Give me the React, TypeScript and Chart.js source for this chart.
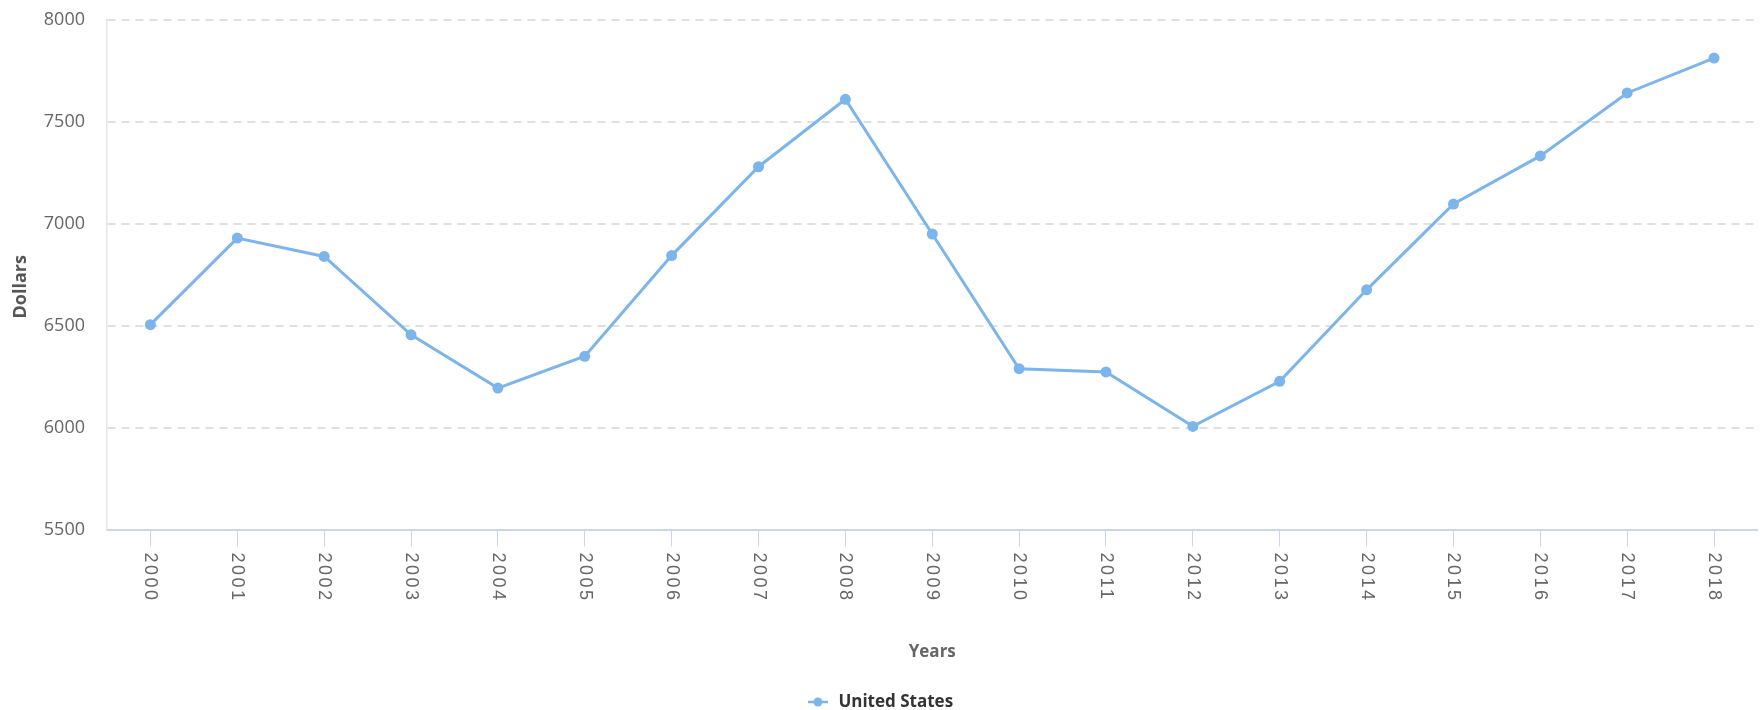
import { useEffect, useRef } from 'react';
import { Chart, registerables } from 'chart.js';

Chart.register(...registerables);

const years = ['2000', '2001', '2002', '2003', '2004', '2005', '2006', '2007', '2008', '2009', '2010', '2011', '2012', '2013', '2014', '2015', '2016', '2017', '2018'];
const usValues = [6505, 6930, 6840, 6455, 6194, 6350, 6844, 7280, 7611, 6950, 6289, 6273, 6006, 6227, 6676, 7097, 7333, 7642, 7813];
const seriesName = 'United States';
const yTickValues = [5500, 6000, 6500, 7000, 7500, 8000];
const xTitle = 'Years';
const yTitle = 'Dollars';

const LINE_COLOR = '#7cb5ec';

function makeLegendMarker(): HTMLCanvasElement {
  const c = document.createElement('canvas');
  c.width = 20;
  c.height = 12;
  const g = c.getContext('2d')!;
  g.strokeStyle = LINE_COLOR;
  g.lineWidth = 2.5;
  g.beginPath();
  g.moveTo(0, 6);
  g.lineTo(20, 6);
  g.stroke();
  g.fillStyle = LINE_COLOR;
  g.beginPath();
  g.arc(10, 6, 4.5, 0, Math.PI * 2);
  g.fill();
  return c;
}

const rotatedXLabels = {
  id: 'rotatedXLabels',
  afterDraw(chart: any) {
    const scale = chart.scales.x;
    const ctx = chart.ctx as CanvasRenderingContext2D;
    ctx.save();
    ctx.font = '18px "Liberation Sans", Arial, sans-serif';
    ctx.fillStyle = '#666666';
    (ctx as any).letterSpacing = '2.5px';
    ctx.textAlign = 'left';
    ctx.textBaseline = 'middle';
    scale.ticks.forEach((t: any, i: number) => {
      const x = scale.getPixelForTick(i);
      ctx.save();
      ctx.translate(x, scale.top + 23);
      ctx.rotate(Math.PI / 2);
      ctx.fillText(String(scale.getLabelForValue(t.value)), 0, 0);
      ctx.restore();
    });
    ctx.restore();
  },
};

const yAxisTitle = {
  id: 'yAxisTitle',
  afterDraw(chart: any) {
    const area = chart.chartArea;
    const ctx = chart.ctx as CanvasRenderingContext2D;
    ctx.save();
    ctx.font = 'bold 18px "Open Sans", sans-serif';
    ctx.fillStyle = '#555555';
    ctx.textAlign = 'center';
    ctx.textBaseline = 'middle';
    ctx.translate(21, (area.top + area.bottom) / 2 + 12);
    ctx.rotate(-Math.PI / 2);
    ctx.fillText(yTitle, 0, 0);
    ctx.restore();
  },
};

export default function App() {
  const ref = useRef<HTMLCanvasElement | null>(null);

  useEffect(() => {
    if (!ref.current) return;
    const marker = makeLegendMarker();
    const chart = new Chart(ref.current, {
      type: 'line',
      data: {
        labels: years,
        datasets: [
          {
            label: seriesName,
            data: usValues,
            borderColor: LINE_COLOR,
            backgroundColor: LINE_COLOR,
            borderWidth: 3,
            pointRadius: 5.5,
            pointBorderWidth: 0,
            pointBackgroundColor: LINE_COLOR,
            tension: 0,
            fill: false,
          },
        ],
      },
      options: {
        responsive: false,
        animation: false,
        layout: { padding: { left: 0, right: 4, top: 20, bottom: -10.5 } },
        plugins: {
          tooltip: { enabled: false },
          legend: {
            display: true,
            position: 'bottom',
            labels: {
              usePointStyle: true,
              pointStyle: marker as any,
              pointStyleWidth: 24,
              padding: 17,
              color: '#333333',
              font: { family: '"Open Sans", sans-serif', size: 17, weight: 'bold' },
            },
          },
        },
        scales: {
          x: {
            type: 'category',
            offset: true,
            grid: {
              offset: false,
              drawOnChartArea: false,
              drawTicks: true,
              tickLength: 17,
              color: '#ccd6eb',
              lineWidth: 1,
            },
            border: { display: true, color: '#ccd6eb', width: 2 },
            ticks: {
              autoSkip: false,
              maxRotation: 0,
              minRotation: 0,
              color: 'rgba(0,0,0,0)',
              font: { size: 18 },
            },
            title: {
              display: true,
              text: xTitle,
              color: '#666666',
              font: { family: '"Open Sans", sans-serif', size: 17, weight: 'bold' },
              padding: { top: 0, bottom: 14.5 },
            },
            afterFit: (s: any) => {
              s.height = 147;
              s.paddingLeft = 0;
              s.paddingRight = 0;
            },
          },
          y: {
            type: 'linear',
            min: 5500,
            max: 8000,
            afterBuildTicks: (s: any) => {
              s.ticks = yTickValues.map((v) => ({ value: v }));
            },
            grid: {
              color: '#e0e0e0',
              lineWidth: 2,
              drawTicks: false,
            },
            border: { display: true, color: '#e3e6ee', width: 1.5, dash: [8, 6] },
            ticks: {
              color: '#666666',
              padding: 22,
              font: { family: '"Open Sans", sans-serif', size: 18 },
              callback: (v: any) => String(v),
            },
            title: { display: false, text: yTitle },
            afterFit: (s: any) => {
              s.width = 107;
              s.paddingTop = 0;
              s.paddingBottom = 0;
            },
          },
        },
      },
      plugins: [rotatedXLabels, yAxisTitle],
    });
    return () => chart.destroy();
  }, []);

  return (
    <div style={{ position: 'absolute', left: 0, top: 0, width: 1763, height: 710, background: '#ffffff' }}>
      <canvas ref={ref} width={1763} height={710} style={{ display: 'block' }} />
    </div>
  );
}
